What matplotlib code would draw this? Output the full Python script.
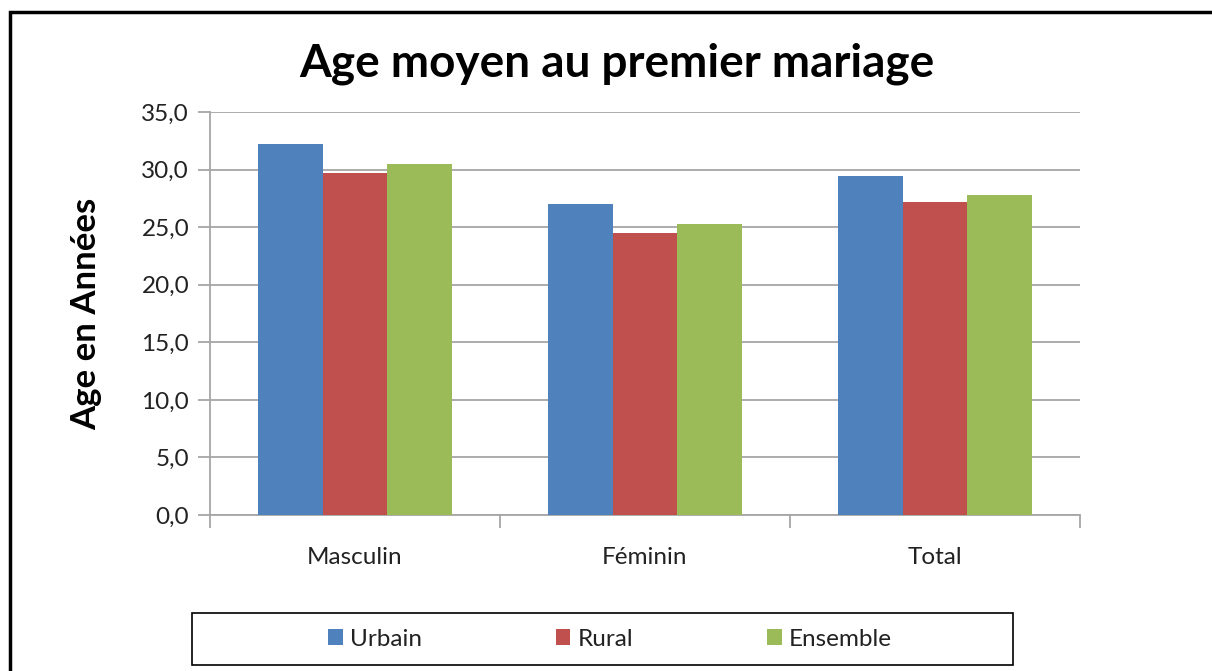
import matplotlib.pyplot as plt
import matplotlib.patches as mpatches
import numpy as np

plt.rcParams['font.family'] = ['Lato', 'DejaVu Sans']

categories = ['Masculin', 'Féminin', 'Total']
series = ['Urbain', 'Rural', 'Ensemble']
urbain = [32.2, 27.0, 29.4]
rural = [29.7, 24.5, 27.2]
ensemble = [30.5, 25.3, 27.8]
colors = ['#4F81BD', '#C0504D', '#9BBB59']
yticks = [0, 5, 10, 15, 20, 25, 30, 35]

W, H = 1212, 671
fig = plt.figure(figsize=(W / 100, H / 100), dpi=100)
ax = fig.add_axes([210 / W, 1 - 515 / H, 870 / W, 403 / H])

x = np.arange(len(categories))
bw = 0.222
for i, (vals, c, name) in enumerate(zip([urbain, rural, ensemble], colors, series)):
    ax.bar(x + (i - 1) * bw, vals, bw, color=c, label=name,
           edgecolor='none', zorder=3)

ax.set_xlim(-0.5, len(categories) - 0.5)
ax.set_ylim(0, 35)
ax.set_yticks(yticks)
ax.set_yticklabels([f'{v:.1f}'.replace('.', ',') for v in yticks])
ax.yaxis.grid(True, color='#a6a6a6', linewidth=1.3, zorder=0)

ax.set_xticks(np.arange(len(categories) + 1) - 0.5)
ax.set_xticklabels([])
ax.set_xticks(x, minor=True)
ax.set_xticklabels(categories, minor=True)
ax.tick_params(axis='x', which='minor', length=0, pad=23, labelsize=17.5, labelcolor='#222222')
ax.tick_params(axis='x', which='major', length=9, color='#a6a6a6', width=1.3)
ax.tick_params(axis='y', length=9, color='#a6a6a6', width=1.3, labelsize=17.5,
               pad=6, labelcolor='#222222')

for s in ['top', 'right']:
    ax.spines[s].set_visible(False)
for s in ['left', 'bottom']:
    ax.spines[s].set_color('#a6a6a6')
    ax.spines[s].set_linewidth(1.3)

ax.set_ylabel('Age en Années', fontsize=25, fontweight='bold', labelpad=28)
fig.text(617 / W, 1 - 64 / H, 'Age moyen au premier mariage', fontsize=33,
         fontweight='bold', ha='center', va='center')

# outer frame (cropped at right and bottom)
fig.patches.append(mpatches.Rectangle((10 / W, -0.1), 1.2, 1.1 - 12 / H,
                                      transform=fig.transFigure, fill=False,
                                      edgecolor='black', linewidth=2.5))

# legend box
fig.patches.append(mpatches.Rectangle((192 / W, 1 - 665 / H), 821 / W, 52 / H,
                                      transform=fig.transFigure, fill=False,
                                      edgecolor='black', linewidth=1.2))
leg = fig.legend(loc='center', bbox_to_anchor=(610 / W, 1 - 639 / H), ncol=3,
                 frameon=False, fontsize=17.5, handlelength=0.6, handleheight=0.6,
                 handletextpad=0.3, columnspacing=5.5)
for t in leg.get_texts():
    t.set_color('#222222')

fig.savefig('out.png', dpi=100)
